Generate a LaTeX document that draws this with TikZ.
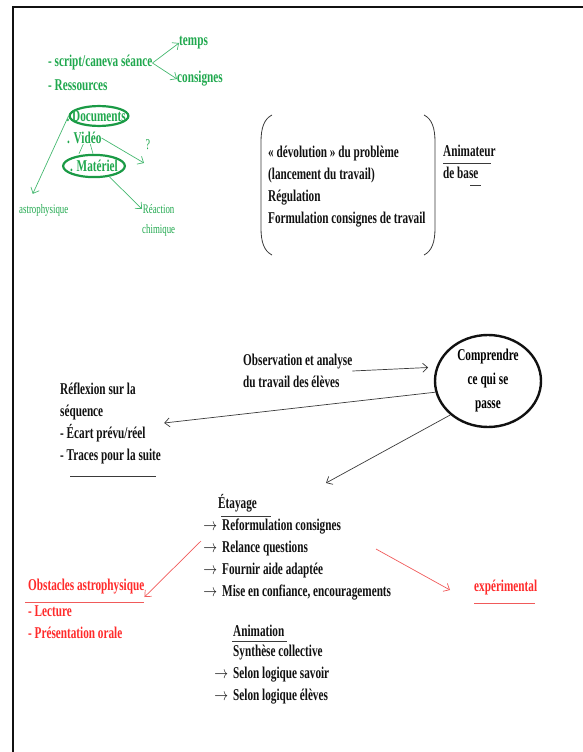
\documentclass[tikz,border=0pt]{standalone}
\usepackage{fontspec}
\setmainfont{Liberation Serif}[FakeStretch=0.68]
\usepackage{tikz}
\usetikzlibrary{arrows.meta,positioning,shapes.geometric}
\definecolor{ink}{HTML}{111111}
\definecolor{linegray}{HTML}{3A3A3A}
\definecolor{grtext}{HTML}{20A84E}
\definecolor{grring}{HTML}{1A9A45}
\definecolor{grline}{HTML}{45B870}
\definecolor{redtext}{HTML}{FF2A2A}
\definecolor{redline}{HTML}{F05A5A}
\tikzset{
  txt/.style={anchor=west,inner sep=0pt,align=left,text=ink,
              font=\bfseries\fontsize{16.5}{22}\selectfont},
  greentxt/.style={txt,text=grtext},
  redtxt/.style={txt,text=redtext},
  smallgreen/.style={anchor=west,inner sep=0pt,align=center,text=grtext,
                     font=\fontsize{13}{20}\selectfont},
  greenring/.style={ellipse,draw=grring,line width=2.2pt,
                    text=grtext,font=\bfseries\fontsize{16.5}{22}\selectfont},
  bigring/.style={ellipse,draw=ink,line width=2.4pt,inner sep=0pt,align=center,
                  minimum width=106pt,minimum height=92pt,
                  font=\bfseries\fontsize{16.5}{24}\selectfont},
  blackarr/.style={-{Straight Barb[length=5pt,width=9pt]},line width=0.7pt,color=linegray},
  greenarr/.style={-{Straight Barb[length=5pt,width=9pt]},line width=0.7pt,color=grline},
  redarr/.style={-{Straight Barb[length=5pt,width=9pt]},line width=0.7pt,color=redline},
  rule/.style={line width=0.8pt,color=linegray},
  bracket/.style={line width=0.8pt,color=linegray}
}
\newcommand{\itemarr}{\llap{\scalebox{0.8}[1]{$\rightarrow$}\hspace{5pt}}}

\begin{document}
\begin{tikzpicture}[x=1pt,y=-1pt]
  \useasboundingbox (0,0) rectangle (583,752);
  \draw[line width=2.4pt,color=ink] (13,752) -- (13,7) -- (583,7);

  % green notes
  \node[greentxt] (script) at (48,63) {- script/caneva séance};
  \node[greentxt] (ressources) at (48,85) {- Ressources};
  \node[greentxt] (temps) at (179,43) {temps};
  \node[greentxt] (consignes) at (177,79) {consignes};
  \node[greenring,inner xsep=-6pt,inner ysep=1.5pt] (docs) at (99,116) {\llap{.\,}Documents};
  \node[greentxt] (video) at (67,138) {. Vidéo};
  \node[greenring,inner xsep=-2pt,inner ysep=2pt] (materiel) at (94,166) {. Matériel};
  \node[smallgreen,anchor=center,font=\fontsize{15}{20}\selectfont] (question) at (148,145) {?};
  \node[smallgreen] (astro) at (19,210) {astrophysique};
  \node[smallgreen] (reaction) at (142,220) {Réaction\\chimique};
  \draw[greenarr] (script.east) -- (temps.west);
  \draw[greenarr] (script.east) -- (consignes.west);
  \draw[greenarr] (docs.west) -- ([xshift=-11pt,yshift=10pt]astro.north);
  \draw[greenarr] (video.east) -- ([xshift=-4pt,yshift=-18pt]question.center);
  \draw[greenarr] (materiel.-35) -- ([yshift=11pt]reaction.west);
  \draw[grline,line width=0.6pt] ([xshift=-1pt]video.south) -- ([xshift=-15pt]materiel.north);
  \draw[grline,line width=0.6pt] ([xshift=6pt]video.south) -- ([xshift=-1pt]materiel.north);

  % animateur de base
  \node[txt] (devol) at (268,187) {« dévolution » du problème\\(lancement du travail)\\Régulation\\Formulation consignes de travail};
  \draw[bracket] (272,115) .. controls (264,119) and (261,128) .. (261,142) -- (261,228)
    .. controls (261,242) and (264,251) .. (272,255);
  \draw[bracket] (424,115) .. controls (432,119) and (435,128) .. (435,142) -- (435,228)
    .. controls (435,242) and (432,251) .. (424,255);
  \node[txt] (anim) at (443,162) {Animateur\\de base};
  \draw[rule] ([yshift=-1pt]anim.west) -- ++(48,0);
  \draw[rule] ([xshift=27pt,yshift=-23pt]anim.west) -- ++(11,0);

  % observation
  \node[txt] (observ) at (243,371) {Observation et analyse\\du travail des élèves};
  \node[bigring] (compr) at (488,381) {Comprendre\\ce qui se\\passe};
  \node[txt] (reflex) at (60,423) {Réflexion sur la\\séquence\\- Écart prévu/réel\\- Traces pour la suite};
  \draw[rule] ([xshift=10pt,yshift=-53pt]reflex.west) -- ++(86,0);
  \draw[blackarr,shorten >=8pt] (observ.east) -- (compr.165);
  \draw[blackarr] (compr.192) -- ([xshift=3pt]reflex.east);
  \coordinate (etaytip) at (326,483);
  \draw[blackarr] (compr.222) -- (etaytip);

  % etayage
  \node[txt] (etayage) at (218,503) {Étayage};
  \draw[rule] ([xshift=3pt,yshift=-13pt]etayage.west) -- ++(50,0);
  \node[txt] (etaylist) at (222,560) {\itemarr Reformulation consignes\\\itemarr Relance questions\\
    \itemarr Fournir aide adaptée\\\itemarr Mise en confiance, encouragements};
  \node[txt] (animation) at (233,631) {Animation};
  \draw[rule] ([xshift=-1pt,yshift=-10pt]animation.west) -- ++(55,0);
  \node[txt] (animlist) at (233,675) {Synthèse collective\\\itemarr Selon logique savoir\\\itemarr Selon logique élèves};

  % obstacles
  \node[redtxt] (obsttitle) at (28,587) {Obstacles astrophysique};
  \draw[redline,line width=0.8pt] ([xshift=-3pt,yshift=-15pt]obsttitle.west) -- ++(119,0);
  \node[redtxt] (obstlist) at (28,622) {- Lecture\\- Présentation orale};
  \node[redtxt] (experim) at (474,588) {expérimental};
  \draw[redline,line width=0.8pt] ([yshift=-15pt]experim.west) -- ++(61,0);
  \coordinate (redstart) at (376,549);
  \draw[redarr] ([xshift=-21pt,yshift=19pt]etaylist.west) -- ([yshift=-10pt]obsttitle.east);
  \draw[redarr] (redstart) -- ([xshift=-24pt,yshift=-2pt]experim.west);
\end{tikzpicture}
\end{document}
